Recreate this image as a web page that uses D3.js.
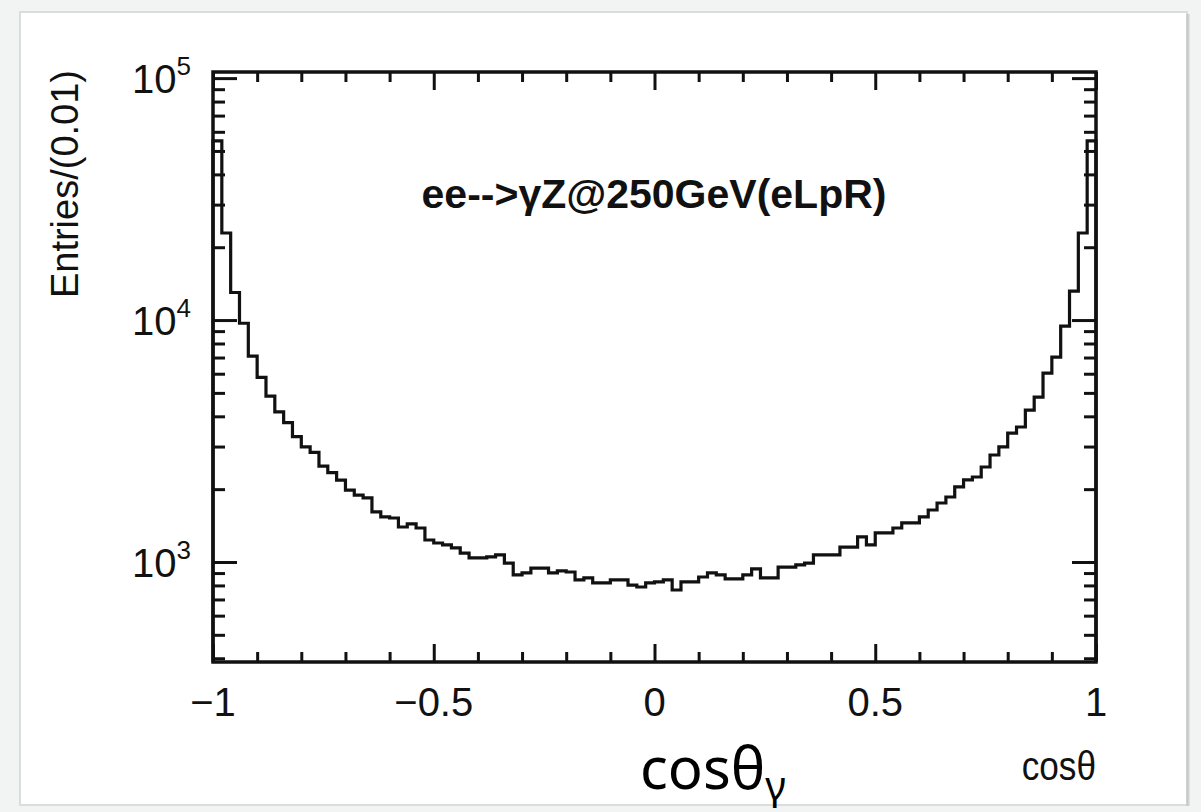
<!DOCTYPE html>
<html>
<head>
<meta charset="utf-8">
<script src="https://cdn.jsdelivr.net/npm/d3@7"></script>
<style>
  body { margin: 0; background: #f2f4f4; }
  svg { display: block; }
</style>
</head>
<body>
<svg id="chart"></svg>
<script>
// histogram: 100 bins of 0.02 from -1 to 1
const xDomain = [-1, 1];
const binWidth = 0.02;
const counts = [
  55000, 22900, 13000, 9700, 7100, 5800, 4850, 4170, 3770, 3300,   // -1.00 .. -0.82
  2990, 2840, 2490, 2340, 2180, 1980, 1890, 1840, 1610, 1535,      // -0.80 .. -0.62
  1520, 1395, 1436, 1382, 1233, 1198, 1176, 1143, 1089, 1039,      // -0.60 .. -0.42
  1039, 1049, 1069, 990, 884, 901, 944, 944, 901, 918,             // -0.40 .. -0.22
  909, 843, 859, 819, 819, 843, 843, 803, 788, 819,                // -0.20 .. -0.02
  827, 843, 766, 827, 827, 867, 901, 884, 851, 851,                // 0.00 .. 0.18
  884, 936, 859, 859, 953, 953, 972, 990, 1069, 1069,              // 0.20 .. 0.38
  1069, 1153, 1153, 1269, 1176, 1318, 1318, 1382, 1450, 1450,      // 0.40 .. 0.58
  1535, 1640, 1753, 1856, 2042, 2183, 2245, 2470, 2768, 2990,      // 0.60 .. 0.78
  3412, 3613, 4247, 4806, 6039, 7032, 9445, 13180, 22900, 55000    // 0.80 .. 0.98
];
const yDomain = [386, 106000];

const xMajor = [-1, -0.5, 0, 0.5, 1];
const xTickLabels = ["\u22121", "\u22120.5", "0", "0.5", "1"];
const yExponents = [3, 4, 5];

const title = "ee-->\u03b3Z@250GeV(eLpR)";
const yTitle = "Entries/(0.01)";
const xTitle = "cos\u03b8";

const W = 1201, H = 812;
const frame = { left: 213, right: 1096, top: 72, bottom: 662 };

const svg = d3.select("#chart").attr("width", W).attr("height", H);

// card behind the plot
svg.append("rect")
   .attr("x", 20).attr("y", 12)
   .attr("width", 1167).attr("height", 793)
   .attr("fill", "white")
   .attr("stroke", "#d9dddd")
   .attr("stroke-width", 2);
svg.append("line")
   .attr("x1", 1188).attr("x2", 1188).attr("y1", 14).attr("y2", 806)
   .attr("stroke", "#b8bcbc").attr("stroke-width", 3).attr("opacity", 0.6);

const x = d3.scaleLinear().domain(xDomain).range([frame.left, frame.right]);
const y = d3.scaleLog().domain(yDomain).range([frame.bottom, frame.top]);

const ink = "#111";
const bins = counts.map((c, i) => ({ x0: xDomain[0] + i * binWidth, x1: xDomain[0] + (i + 1) * binWidth, c }));

// step outline
const pts = [[x(bins[0].x0), y(yDomain[0])]];
bins.forEach(b => { pts.push([x(b.x0), y(b.c)]); pts.push([x(b.x1), y(b.c)]); });
pts.push([x(bins[bins.length - 1].x1), y(yDomain[0])]);

svg.append("path")
   .attr("d", d3.line()(pts))
   .attr("fill", "none")
   .attr("stroke", ink)
   .attr("stroke-width", 3.2)
   .attr("stroke-linejoin", "miter");

// minor / major ticks
const xMinor = d3.range(-9, 10).map(d => d / 10).filter(d => !xMajor.some(m => Math.abs(m - d) < 1e-9));
const yMajor = yExponents.map(e => Math.pow(10, e)).filter(v => v >= yDomain[0] && v <= yDomain[1]);
const yMinor = [];
[2, 3, 4].forEach(e => d3.range(2, 10).forEach(m => {
  const v = m * Math.pow(10, e);
  if (v > yDomain[0] && v < yDomain[1]) yMinor.push(v);
}));

function styleAxis(g) {
  g.select(".domain").remove();
  g.selectAll("line").attr("stroke", ink).attr("stroke-width", 3);
  g.selectAll("text").remove();
}

// bottom + top
[[d3.axisBottom, frame.bottom], [d3.axisTop, frame.top]].forEach(([ax, ty]) => {
  svg.append("g").attr("transform", `translate(0,${ty})`)
     .call(ax(x).tickValues(xMajor).tickSize(-18)).call(styleAxis);
  svg.append("g").attr("transform", `translate(0,${ty})`)
     .call(ax(x).tickValues(xMinor).tickSize(-10)).call(styleAxis);
});

// left + right
[[d3.axisLeft, frame.left], [d3.axisRight, frame.right]].forEach(([ax, tx]) => {
  svg.append("g").attr("transform", `translate(${tx},0)`)
     .call(ax(y).tickValues(yMajor).tickSize(-24)).call(styleAxis);
  svg.append("g").attr("transform", `translate(${tx},0)`)
     .call(ax(y).tickValues(yMinor).tickSize(-12)).call(styleAxis);
});

// frame
svg.append("rect")
   .attr("x", frame.left).attr("y", frame.top)
   .attr("width", frame.right - frame.left).attr("height", frame.bottom - frame.top)
   .attr("fill", "none")
   .attr("stroke", ink)
   .attr("stroke-width", 3.5);

const font = "'Liberation Sans', Arial, Helvetica, sans-serif";

// x tick labels
svg.selectAll(".xlab")
   .data(xMajor)
   .enter().append("text")
   .attr("x", d => x(d))
   .attr("y", frame.bottom + 54)
   .attr("text-anchor", "middle")
   .attr("font-family", font)
   .attr("font-size", 40)
   .attr("fill", ink)
   .text((d, i) => xTickLabels[i]);

// y tick labels as 10^n
const yl = svg.selectAll(".ylab")
   .data(yExponents)
   .enter().append("text")
   .attr("x", 191)
   .attr("y", e => y(Math.pow(10, e)) + 15)
   .attr("text-anchor", "end")
   .attr("font-family", font)
   .attr("font-size", 40)
   .attr("fill", ink);
yl.append("tspan").text("10");
yl.append("tspan").attr("dy", -18).attr("font-size", 26).text(e => e);

// titles
svg.append("text")
   .attr("x", 654).attr("y", 208)
   .attr("text-anchor", "middle")
   .attr("font-family", font)
   .attr("font-weight", "bold")
   .attr("font-size", 41)
   .attr("fill", ink)
   .text(title);

svg.append("text")
   .attr("transform", `translate(78,${frame.top - 2}) rotate(-90)`)
   .attr("text-anchor", "end")
   .attr("font-family", font)
   .attr("font-size", 38)
   .attr("fill", ink)
   .text(yTitle);

svg.append("text")
   .attr("x", frame.right).attr("y", 780)
   .attr("text-anchor", "end")
   .attr("font-family", font)
   .attr("font-size", 40)
   .attr("fill", ink)
   .attr("transform", `translate(${frame.right},0) scale(0.88,1) translate(${-frame.right},0)`)
   .text(xTitle);

// annotation below the axis
const ann = svg.append("text")
   .attr("x", 640).attr("y", 789)
   .attr("font-family", "'Noto Sans', 'Open Sans', sans-serif")
   .attr("font-size", 58)
   .attr("fill", "#000");
ann.append("tspan").text("cos\u03b8");
ann.append("tspan").attr("dy", 11).attr("font-size", 40).text("\u03b3");
</script>
</body>
</html>
